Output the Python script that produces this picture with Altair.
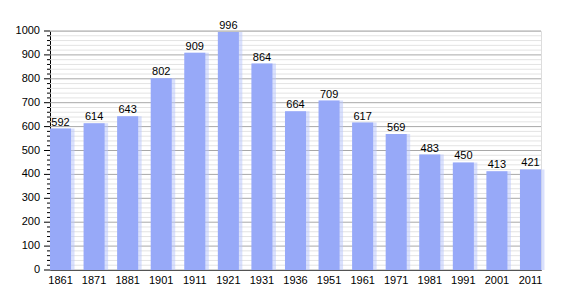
import altair as alt
import pandas as pd

years = ["1861", "1871", "1881", "1901", "1911", "1921", "1931", "1936",
         "1951", "1961", "1971", "1981", "1991", "2001", "2011"]
population = [592, 614, 643, 802, 909, 996, 864, 664, 709, 617, 569, 483, 450, 413, 421]
major_levels = [0, 100, 200, 300, 400, 500, 600, 700, 800, 900, 1000]
minor_levels = [v for v in range(0, 1001, 20) if v % 100 != 0]

df = pd.DataFrame({"year": years, "pop": population})
minor_df = pd.DataFrame({"v": minor_levels})
major_df = pd.DataFrame({"v": major_levels})

FONT = "Liberation Sans"
yscale = alt.Scale(domain=[0, 1000], nice=False)
xscale = alt.Scale(paddingInner=0.373, paddingOuter=0, align=0)

y_axis = alt.Axis(labels=False, ticks=False, grid=False, domainColor="black")
x_axis = alt.Axis(labelAngle=0, ticks=False, domainColor="black",
                  labelFont=FONT, labelFontSize=11, labelColor="black",
                  labelPadding=4, grid=False, labelOverlap=False)

minor_grid = alt.Chart(minor_df).mark_rule(color="#e3e3e3", strokeWidth=1).encode(
    y=alt.Y("v:Q", scale=yscale, title=None, axis=y_axis),
    x=alt.value(0), x2=alt.value(491),
)
major_grid = alt.Chart(major_df).mark_rule(color="#a8a8a8", strokeWidth=1).encode(
    y=alt.Y("v:Q", scale=yscale, title=None),
    x=alt.value(0), x2=alt.value(491),
)
minor_ticks = alt.Chart(minor_df).mark_rule(color="black", strokeWidth=1).encode(
    y=alt.Y("v:Q", scale=yscale, title=None),
    x=alt.value(-3), x2=alt.value(0),
)
major_ticks = alt.Chart(major_df).mark_rule(color="black", strokeWidth=1).encode(
    y=alt.Y("v:Q", scale=yscale, title=None),
    x=alt.value(-6), x2=alt.value(0),
)
y_labels = alt.Chart(major_df).mark_text(align="right", baseline="middle", font=FONT,
                                         fontSize=11, color="black").encode(
    y=alt.Y("v:Q", scale=yscale, title=None),
    x=alt.value(-10),
    text=alt.Text("v:Q", format="d"),
)

halo = alt.Chart(df).mark_bar(color="#b9c6fb", opacity=0.55, xOffset=2, width=24).encode(
    x=alt.X("year:N", sort=None, scale=xscale, title=None, axis=x_axis),
    y=alt.Y("pop:Q", scale=yscale, title=None),
)

bars = alt.Chart(df).mark_bar(color="#97a9f8").encode(
    x=alt.X("year:N", sort=None, scale=xscale, title=None),
    y=alt.Y("pop:Q", scale=yscale, title=None),
)

labels = alt.Chart(df).mark_text(baseline="bottom", dy=-1, font=FONT, fontSize=11,
                                 color="black").encode(
    x=alt.X("year:N", sort=None, scale=xscale, title=None),
    y=alt.Y("pop:Q", scale=yscale, title=None),
    text="pop:Q",
)

chart = alt.layer(minor_grid, major_grid, halo, bars, labels,
                  minor_ticks, major_ticks, y_labels).properties(
    width=491, height=239,
    autosize=alt.AutoSizeParams(type="none"),
    padding={"left": 50, "top": 31, "right": 29, "bottom": 30},
).configure_view(stroke=None).configure(background="white")

chart.save("out.html", embed_options={"renderer": "svg", "actions": False})
